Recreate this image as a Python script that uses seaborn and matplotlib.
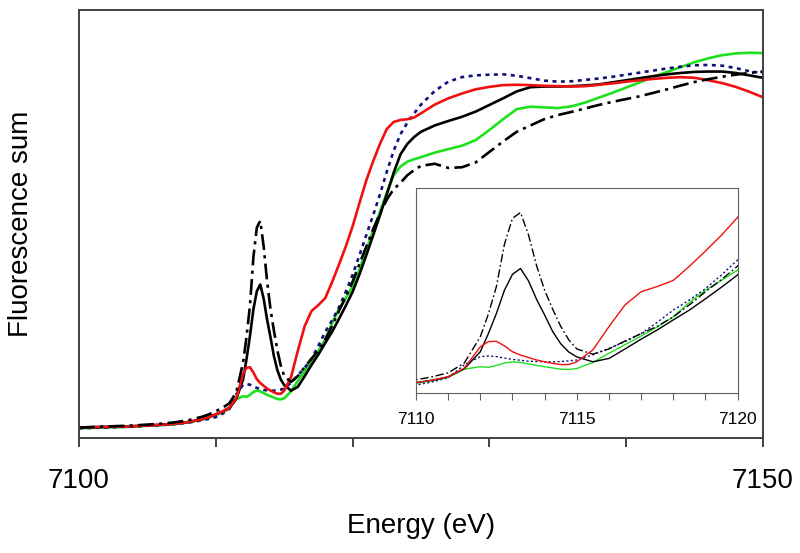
import matplotlib
matplotlib.use("Agg")
import matplotlib.pyplot as plt
import seaborn as sns
import numpy as np

# energy grid (eV)
energy = [7100, 7102, 7104, 7106, 7107, 7108, 7109, 7109.5,
          7110, 7110.5, 7111, 7111.5, 7112, 7112.25, 7112.5, 7112.75,
          7113, 7113.25, 7113.5, 7113.75, 7114, 7114.25, 7114.5, 7114.75,
          7115, 7115.5, 7116, 7116.5, 7117, 7117.5, 7118, 7118.5,
          7119, 7119.5, 7120, 7120.5, 7121, 7121.5, 7122, 7122.5,
          7123, 7123.5, 7124, 7124.5, 7125, 7126, 7127, 7128,
          7129, 7130, 7131, 7132, 7133, 7134, 7135, 7136,
          7137, 7138, 7139, 7140, 7141, 7142, 7143, 7144,
          7145, 7146, 7147, 7148, 7149, 7150]

black_solid = [0.0, 0.002, 0.004, 0.008, 0.011, 0.016, 0.024, 0.030,
               0.038, 0.046, 0.057, 0.083, 0.139, 0.198, 0.264, 0.340,
               0.392, 0.411, 0.370, 0.310, 0.259, 0.205, 0.165, 0.138,
               0.122, 0.106, 0.117, 0.148, 0.180, 0.210, 0.243, 0.275,
               0.312, 0.350, 0.390, 0.440, 0.495, 0.552, 0.610, 0.670,
               0.732, 0.785, 0.815, 0.835, 0.850, 0.868, 0.881, 0.893,
               0.908, 0.927, 0.946, 0.966, 0.978, 0.980, 0.980, 0.981,
               0.983, 0.986, 0.992, 0.998, 1.004, 1.010, 1.015, 1.019,
               1.022, 1.023, 1.023, 1.019, 1.012, 1.005]

black_dashdot = [0.0, 0.003, 0.006, 0.011, 0.015, 0.021, 0.031, 0.038,
                 0.047, 0.057, 0.070, 0.102, 0.188, 0.262, 0.352, 0.490,
                 0.575, 0.594, 0.520, 0.420, 0.340, 0.278, 0.222, 0.178,
                 0.148, 0.131, 0.148, 0.174, 0.198, 0.222, 0.253, 0.292,
                 0.335, 0.375, 0.419, 0.470, 0.520, 0.570, 0.615, 0.655,
                 0.685, 0.703, 0.725, 0.740, 0.752, 0.758, 0.746, 0.748,
                 0.762, 0.792, 0.822, 0.850, 0.868, 0.886, 0.898, 0.907,
                 0.917, 0.927, 0.936, 0.944, 0.952, 0.962, 0.972, 0.983,
                 0.993, 1.001, 1.008, 1.014, 1.019, 1.023]

red = [0.0, 0.002, 0.004, 0.008, 0.011, 0.016, 0.024, 0.030,
       0.038, 0.046, 0.057, 0.085, 0.155, 0.172, 0.173, 0.158,
       0.139, 0.128, 0.120, 0.112, 0.106, 0.101, 0.097, 0.097,
       0.106, 0.145, 0.221, 0.292, 0.335, 0.352, 0.372, 0.418,
       0.468, 0.520, 0.578, 0.645, 0.710, 0.765, 0.815, 0.858,
       0.878, 0.884, 0.886, 0.891, 0.903, 0.928, 0.946, 0.960,
       0.972, 0.979, 0.984, 0.985, 0.984, 0.982, 0.981, 0.980,
       0.981, 0.985, 0.989, 0.994, 0.998, 1.002, 1.005, 1.007,
       1.005, 0.998, 0.990, 0.979, 0.965, 0.949]

green = [-0.002, 0.0, 0.003, 0.007, 0.010, 0.015, 0.023, 0.029,
         0.036, 0.044, 0.055, 0.082, 0.090, 0.088, 0.094, 0.102,
         0.106, 0.104, 0.099, 0.094, 0.090, 0.086, 0.082, 0.081,
         0.084, 0.104, 0.134, 0.162, 0.190, 0.220, 0.253, 0.300,
         0.340, 0.372, 0.406, 0.455, 0.510, 0.565, 0.620, 0.675,
         0.725, 0.750, 0.764, 0.771, 0.777, 0.790, 0.800, 0.810,
         0.826, 0.855, 0.886, 0.915, 0.922, 0.920, 0.918, 0.923,
         0.934, 0.948, 0.962, 0.977, 0.992, 1.008, 1.022, 1.036,
         1.050, 1.061, 1.070, 1.075, 1.077, 1.076]

blue_dotted = [-0.002, 0.0, 0.003, 0.007, 0.010, 0.014, 0.021, 0.025,
               0.030, 0.040, 0.054, 0.096, 0.123, 0.125, 0.123, 0.118,
               0.114, 0.111, 0.108, 0.107, 0.106, 0.106, 0.107, 0.109,
               0.112, 0.129, 0.150, 0.172, 0.198, 0.235, 0.275, 0.308,
               0.345, 0.390, 0.439, 0.495, 0.553, 0.610, 0.670, 0.735,
               0.795, 0.843, 0.876, 0.903, 0.928, 0.967, 0.994, 1.007,
               1.012, 1.014, 1.015, 1.011, 1.004, 0.997, 0.994, 0.995,
               0.999, 1.003, 1.008, 1.014, 1.020, 1.026, 1.032, 1.037,
               1.041, 1.042, 1.040, 1.033, 1.024, 1.018]

main_ticks = [7100, 7110, 7120, 7130, 7140, 7150]
main_labels = ["7100", "", "", "", "", "7150"]
inset_ticks = list(range(7110, 7121))
inset_labels = ["7110", "", "", "", "", "7115", "", "", "", "", "7120"]

sns.set_theme(style="white")
plt.rcParams["font.family"] = ["Liberation Sans", "DejaVu Sans"]
plt.rcParams["text.color"] = "black"
plt.rcParams["axes.labelcolor"] = "black"
plt.rcParams["xtick.labelcolor"] = "black"

# (values, colour, dash pattern in linewidth units or None for solid)
series = [
    (green, "#1fe01f", None),
    (black_solid, "black", None),
    (blue_dotted, "#10107a", (1.5, 1.7)),
    (red, "#f01010", None),
    (black_dashdot, "black", (6, 2, 1.2, 2)),
]

energy = np.array(energy)

fig = plt.figure(figsize=(8, 5.53), dpi=100)
ax = fig.add_axes([0.09875, 0.208, 0.855, 0.774])
ax_in = fig.add_axes([0.52, 0.2893, 0.402, 0.3707])


def draw(axis, lw):
    for vals, col, dash in series:
        sns.lineplot(x=energy, y=np.array(vals), ax=axis, color=col,
                     linewidth=lw, estimator=None, sort=False)
        line = axis.lines[-1]
        if dash is not None:
            line.set_dashes(dash)
        line.set_solid_capstyle("butt")


draw(ax, 1.9)
draw(ax_in, 1.0)

ax.set_xlim(7100, 7150)
ax.set_ylim(-0.03, 1.2)
ax.set_xticks(main_ticks)
ax.set_xticklabels(main_labels)
ax.set_yticks([])
ax.tick_params(axis="x", direction="out", length=6.5, width=1.4,
               color="#404040", labelsize=20, pad=15, bottom=True)
ax.set_xlabel("Energy (eV)", fontsize=20, labelpad=14)
ax.set_ylabel("Fluorescence sum", fontsize=20)
ax.yaxis.set_label_coords(-0.066, 0.5)
for sp in ax.spines.values():
    sp.set_color("#404040")
    sp.set_linewidth(1.4)

ax_in.set_xlim(7110, 7120)
ax_in.set_ylim(0.004, 0.674)
ax_in.set_xticks(inset_ticks)
ax_in.set_xticklabels(inset_labels)
ax_in.set_yticks([])
ax_in.set_xlabel("")
ax_in.set_ylabel("")
ax_in.tick_params(axis="x", direction="out", length=5, width=0.8,
                  color="#606060", labelsize=12.5, pad=9, bottom=True)
for sp in ax_in.spines.values():
    sp.set_color("#606060")
    sp.set_linewidth(0.8)

fig.savefig("out.png", dpi=100)
plt.close(fig)
